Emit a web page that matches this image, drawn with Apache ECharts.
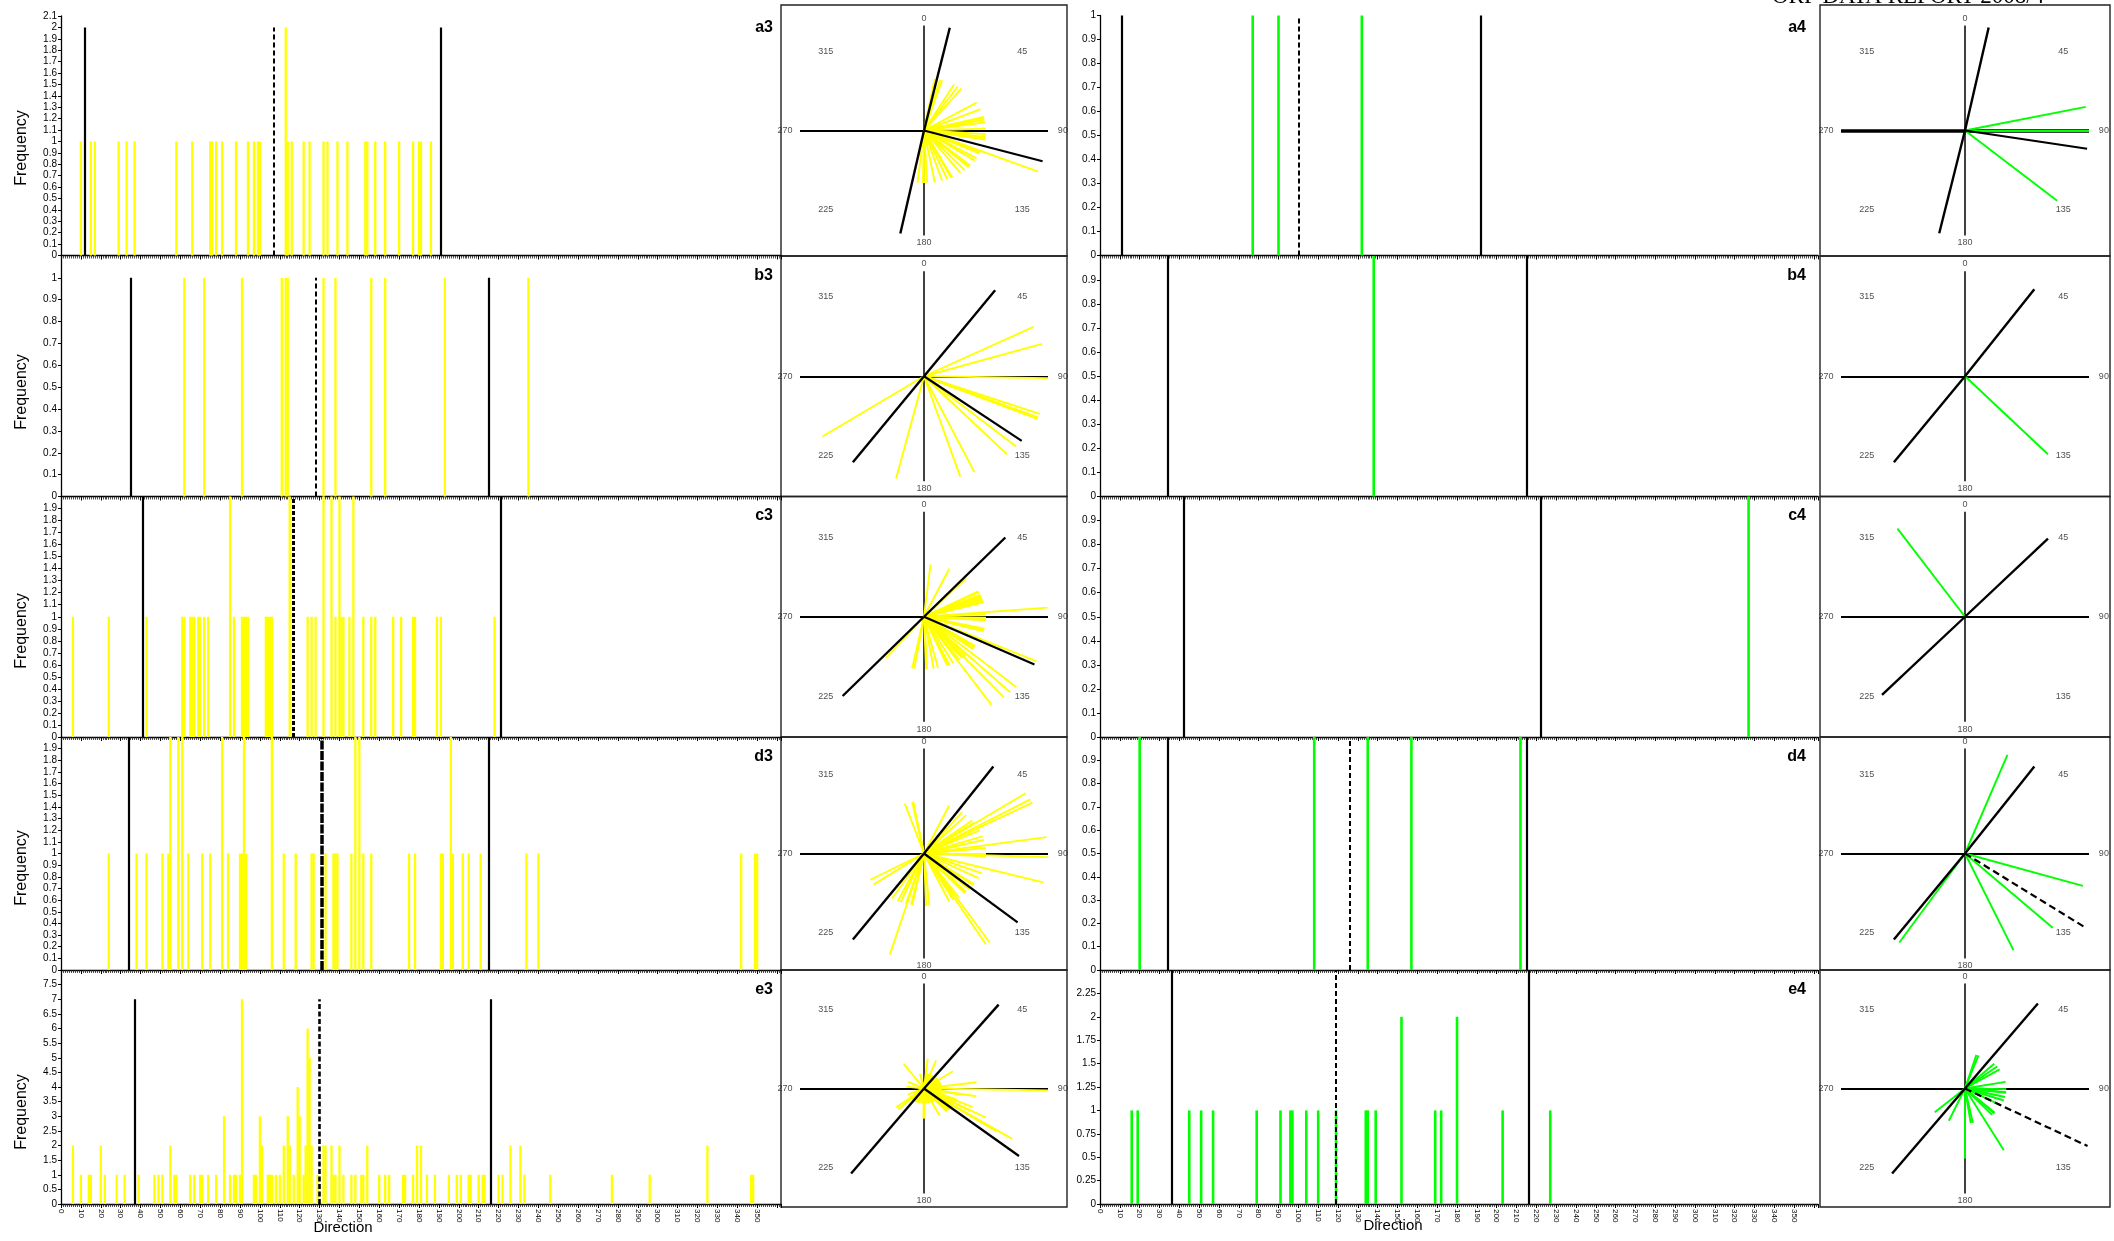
<!DOCTYPE html>
<html>
<head>
<meta charset="utf-8">
<script src="https://cdn.jsdelivr.net/npm/echarts/dist/echarts.min.js"></script>
<style>
  html, body { margin: 0; padding: 0; background: #fff; }
  #chart { width: 2114px; height: 1241px; }
</style>
</head>
<body>
<div id="chart"></div>
<script>
// ---- data: direction (degrees) / frequency pairs per sample ----
const roseTickLabels = [0, 45, 90, 135, 180, 225, 270, 315];

const a3Counts = [[10,1],[15,1],[17,1],[29,1],[33,1],[37,1],[58,1],[66,1],[75,1],[76,1],[78,1],[81,1],[88,1],[94,1],[97,1],[99,1],[100,1],[113,2],[114,1],[116,1],[122,1],[125,1],[132,1],[134,1],[139,1],[144,1],[153,1],[154,1],[158,1],[163,1],[170,1],[177,1],[180,1],[181,1],[186,1]];
const a3Trend = [12, 191];
const a3Mean = 107;

const b3Counts = [[62,1],[72,1],[91,1],[111,1],[113,1],[114,1],[132,1],[138,1],[156,1],[163,1],[193,1],[235,1]];
const b3Trend = [35, 215];
const b3Mean = 128;

const c3Counts = [[6,1],[24,1],[43,1],[61,1],[62,1],[65,1],[66,1],[67,1],[69,1],[70,1],[72,1],[74,1],[85,2],[87,1],[91,1],[92,1],[93,1],[94,1],[103,1],[104,1],[105,1],[106,1],[115,2],[124,1],[126,1],[128,1],[132,2],[136,2],[138,1],[140,2],[141,1],[142,1],[145,1],[147,2],[152,1],[156,1],[158,1],[167,1],[171,1],[177,1],[178,1],[189,1],[191,1],[218,1]];
const c3Trend = [41, 221];
const c3Mean = 117;

const d3Counts = [[24,1],[38,1],[43,1],[51,1],[54,1],[55,2],[59,2],[61,2],[64,1],[71,1],[75,1],[81,2],[84,1],[90,1],[91,1],[92,2],[93,1],[106,2],[112,1],[118,1],[126,1],[127,1],[133,1],[137,1],[138,1],[139,1],[146,1],[148,2],[150,2],[152,1],[156,1],[175,1],[178,1],[191,1],[192,1],[196,2],[197,1],[202,1],[205,1],[211,1],[234,1],[240,1],[342,1],[349,1],[350,1]];
const d3Trend = [34, 215];
const d3Mean = 131;

const e3Counts = [[6,2],[10,1],[14,1],[15,1],[20,2],[22,1],[28,1],[32,1],[39,1],[47,1],[49,1],[51,1],[55,2],[57,1],[58,1],[65,1],[67,1],[70,1],[71,1],[74,1],[78,1],[82,3],[85,1],[87,1],[88,1],[90,1],[91,7],[97,1],[98,1],[100,3],[101,2],[104,1],[105,1],[106,1],[108,1],[110,1],[112,2],[114,3],[115,2],[117,1],[119,4],[120,3],[122,1],[123,2],[124,6],[125,5],[126,2],[129,1],[132,2],[133,2],[136,2],[137,1],[138,1],[140,2],[142,1],[146,1],[148,1],[151,1],[152,1],[154,2],[160,1],[163,1],[165,1],[172,1],[173,1],[177,1],[179,2],[181,2],[184,1],[188,1],[195,1],[199,1],[201,1],[205,1],[206,1],[210,1],[212,1],[213,1],[220,1],[222,1],[226,2],[231,2],[233,1],[246,1],[277,1],[296,1],[325,2],[347,1],[348,1]];
const e3Trend = [37, 216];
const e3Mean = 130;

const a4Counts = [[77,1],[90,1],[132,1]];
const a4Trend = [11, 192];
const a4Mean = 100;

const b4Counts = [[138,1]];
const b4Trend = [34, 215];
const b4Mean = null;

const c4Counts = [[327,1]];
const c4Trend = [42, 222];
const c4Mean = null;

const d4Counts = [[20,1],[108,1],[135,1],[157,1],[212,1]];
const d4Trend = [34, 215];
const d4Mean = 126;

const e4Counts = [[16,1],[19,1],[45,1],[51,1],[57,1],[79,1],[91,1],[96,1],[97,1],[104,1],[110,1],[119,1],[134,1],[135,1],[139,1],[152,2],[169,1],[172,1],[180,2],[203,1],[227,1]];
const e4Trend = [36, 216];
const e4Mean = 119;

// frequency axes
const leftYMax  = [2.1, 1.1, 2, 2, 8];
const leftYStep = [0.1, 0.1, 0.1, 0.1, 0.5];
const rightYMax  = [1, 1, 1, 1, 2.5];
const rightYStep = [0.1, 0.1, 0.1, 0.1, 0.25];
// height reached by the reference lines in each histogram
const leftMarkTop  = [2, 1, 2, 2, 7];
const rightMarkTop = [1, 1, 1, 1, 2.5];
// frequency that fills one arm of each rose
const leftRoseScale  = [2, 1, 2, 2, 7];
const rightRoseScale = [1, 1, 1, 1, 3];
// length of the mean-direction ray in each rose (arm = 1)
const leftMeanLen  = [1, 1, 1, 1, 1];
const rightMeanLen = [1, 1, 1, 1.2, 1.13];

// ---- layout ----
const FONT = "'Liberation Sans', Arial, Helvetica, sans-serif";
const histTopL = [16, 256, 496.5, 737, 970];
const histTopR = [15.5, 256, 496.5, 737, 970];
const histBottom = [255.5, 496.5, 737, 970, 1204];
const boxTop = [5, 256, 496.5, 737, 970];
const boxBottom = [256, 496.5, 737, 970, 1207];

const leftSet = [
  {id:'a3', counts:a3Counts, trend:a3Trend, mean:a3Mean},
  {id:'b3', counts:b3Counts, trend:b3Trend, mean:b3Mean},
  {id:'c3', counts:c3Counts, trend:c3Trend, mean:c3Mean},
  {id:'d3', counts:d3Counts, trend:d3Trend, mean:d3Mean},
  {id:'e3', counts:e3Counts, trend:e3Trend, mean:e3Mean}
];
const rightSet = [
  {id:'a4', counts:a4Counts, trend:a4Trend, mean:a4Mean},
  {id:'b4', counts:b4Counts, trend:b4Trend, mean:b4Mean},
  {id:'c4', counts:c4Counts, trend:c4Trend, mean:c4Mean},
  {id:'d4', counts:d4Counts, trend:d4Trend, mean:d4Mean},
  {id:'e4', counts:e4Counts, trend:e4Trend, mean:e4Mean}
];

const grids = [], xAxes = [], yAxes = [], series = [], graphics = [];
const rad = d => d * Math.PI / 180;

function histPanel(p) {
  const g = grids.length;
  grids.push({left: p.left, top: p.top, width: p.width, height: p.bottom - p.top,
              containLabel: false, outerBoundsMode: 'none'});
  xAxes.push({
    gridIndex: g, type: 'value', min: 0, max: 362, interval: 10,
    axisLine: {show: true, onZero: false, lineStyle: {color: '#000', width: 1.3}},
    axisTick: {show: true, length: 4, lineStyle: {color: '#000', width: 1}},
    minorTick: {show: true, splitNumber: 10, length: 3, lineStyle: {color: '#222', width: 0.8}},
    splitLine: {show: false}, minorSplitLine: {show: false},
    axisLabel: {show: p.bottomRow, rotate: -90, fontSize: 8, margin: 5, color: '#000', fontFamily: FONT,
                formatter: v => (v <= 350 ? String(v) : '')}
  });
  yAxes.push({
    gridIndex: g, type: 'value', min: 0, max: p.yMax, interval: p.yStep,
    axisLine: {show: true, onZero: false, lineStyle: {color: '#000', width: 1.3}},
    axisTick: {show: true, length: 3, lineStyle: {color: '#000'}},
    splitLine: {show: false},
    axisLabel: {fontSize: 10, color: '#000', margin: 4, fontFamily: FONT, showMaxLabel: p.showTop}
  });
  series.push({
    type: 'bar', xAxisIndex: g, yAxisIndex: g, data: p.counts, barWidth: p.barWidth,
    itemStyle: {color: p.color}, silent: true, z: 2
  });
  series.push({
    type: 'lines', coordinateSystem: 'cartesian2d', xAxisIndex: g, yAxisIndex: g, silent: true, z: 4,
    data: p.trend.map(a => ({coords: [[a, 0], [a, p.markTop]]})),
    lineStyle: {color: '#000', width: 2.2, opacity: 1}
  });
  if (p.mean != null) {
    series.push({
      type: 'lines', coordinateSystem: 'cartesian2d', xAxisIndex: g, yAxisIndex: g, silent: true, z: 4,
      data: [{coords: [[p.mean, 0], [p.mean, p.markTop]]}],
      lineStyle: {color: '#000', width: p.dashWidth, type: p.dash, opacity: 1}
    });
  }
}

function rosePanel(p) {
  const g = grids.length;
  const w = p.width, h = p.height;
  const xr = w / 2 / 124, yr = h / 2 / 105;
  grids.push({left: p.left, top: p.top, width: w, height: h, show: true,
              borderColor: '#222', borderWidth: 1.4, backgroundColor: 'rgba(0,0,0,0)',
              containLabel: false, outerBoundsMode: 'none'});
  xAxes.push({gridIndex: g, type: 'value', min: -xr, max: xr, show: false, splitLine: {show: false}});
  yAxes.push({gridIndex: g, type: 'value', min: -yr, max: yr, show: false, splitLine: {show: false}});
  const tip = (deg, r) => [r * Math.sin(rad(deg)), r * Math.cos(rad(deg))];
  const ray = (deg, r) => ({coords: [[0, 0], tip(deg, r)]});
  const common = {type: 'lines', coordinateSystem: 'cartesian2d', xAxisIndex: g, yAxisIndex: g, silent: true};
  // compass cross
  series.push(Object.assign({}, common, {z: 2, data: [{coords: [tip(270, 1), tip(90, 1)]}],
    lineStyle: {color: '#000', width: p.armWidth, opacity: 1}}));
  series.push(Object.assign({}, common, {z: 2, data: [{coords: [tip(0, 1), tip(180, 1)]}],
    lineStyle: {color: '#000', width: 1.5, opacity: 1}}));
  // one ray per direction class, length = frequency
  series.push(Object.assign({}, common, {z: 3,
    data: p.counts.map(c => ray(c[0], c[1] / p.scale)),
    lineStyle: {color: p.color, width: 1.9, opacity: 1}}));
  // reference axis through the centre
  series.push(Object.assign({}, common, {z: 4,
    data: p.trend.map(a => ray(a, 1)),
    lineStyle: {color: '#000', width: 2.4, opacity: 1}}));
  if (p.mean != null) {
    series.push(Object.assign({}, common, {z: 4,
      data: [ray(p.mean, p.meanLen)],
      lineStyle: {color: '#000', width: 2.2, type: p.meanDashed ? [7, 4] : 'solid', opacity: 1}}));
  }
  series.push({
    type: 'scatter', xAxisIndex: g, yAxisIndex: g, symbolSize: 0, silent: true, z: 5, clip: false,
    data: roseTickLabels.map(d => ({name: String(d), value: [1.12 * Math.sin(rad(d)), 1.07 * Math.cos(rad(d))]})),
    label: {show: true, position: 'inside', formatter: '{b}', fontSize: 9, color: '#222', fontFamily: FONT}
  });
}

const meanDashL = [[5, 3], [5, 3], [4, 2], [9, 1.5], [5, 2.5]];
const meanWidthL = [2, 2, 3, 3.5, 2.6];

for (let i = 0; i < 5; i++) {
  const L = leftSet[i], R = rightSet[i];
  histPanel({left: 61, width: 720, top: histTopL[i], bottom: histBottom[i], counts: L.counts,
    color: '#FFFF00', barWidth: 2.3, yMax: leftYMax[i], yStep: leftYStep[i], showTop: i === 0,
    markTop: leftMarkTop[i], trend: L.trend, mean: L.mean, dash: meanDashL[i], dashWidth: meanWidthL[i],
    bottomRow: i === 4});
  rosePanel({left: 781, width: 286, top: boxTop[i], height: boxBottom[i] - boxTop[i], counts: L.counts,
    color: '#FFFF00', scale: leftRoseScale[i], trend: L.trend, mean: L.mean, meanLen: leftMeanLen[i],
    meanDashed: false, armWidth: 2});
  histPanel({left: 1100, width: 718, top: histTopR[i], bottom: histBottom[i], counts: R.counts,
    color: '#00FF00', barWidth: 2.6, yMax: rightYMax[i], yStep: rightYStep[i], showTop: i === 0,
    markTop: rightMarkTop[i], trend: R.trend, mean: R.mean, dash: [5, 3], dashWidth: 2,
    bottomRow: i === 4});
  rosePanel({left: 1820, width: 290, top: boxTop[i], height: boxBottom[i] - boxTop[i], counts: R.counts,
    color: '#00FF00', scale: rightRoseScale[i], trend: R.trend, mean: R.mean, meanLen: rightMeanLen[i],
    meanDashed: i >= 3, armWidth: i === 0 ? 3.5 : 2});
}

// panel tags
const tagY = [28, 276, 516, 757, 990];
for (let i = 0; i < 5; i++) {
  [[leftSet[i].id, 773], [rightSet[i].id, 1806]].forEach(([t, x]) => {
    graphics.push({type: 'text', x: x, y: tagY[i], z: 10, silent: true,
      style: {text: t, fill: '#000', font: "bold 16px 'Liberation Sans', Arial, sans-serif",
              align: 'right', verticalAlign: 'middle', textAlign: 'right', textVerticalAlign: 'middle'}});
  });
}
// vertical titles
const freqY = [148, 392, 631, 868, 1112];
freqY.forEach(y => graphics.push({type: 'text', x: 22, y: y, rotation: Math.PI / 2, z: 10, silent: true,
  style: {text: 'Frequency', fill: '#000', font: "16px 'Liberation Sans', Arial, sans-serif",
          align: 'center', verticalAlign: 'middle', textAlign: 'center', textVerticalAlign: 'middle'}}));
// horizontal titles
[[343, 1228], [1393, 1226]].forEach(([x, y]) => graphics.push({type: 'text', x: x, y: y, z: 10, silent: true,
  style: {text: 'Direction', fill: '#000', font: "15px 'Liberation Sans', Arial, sans-serif",
          align: 'center', verticalAlign: 'middle', textAlign: 'center', textVerticalAlign: 'middle'}}));
// running page header
graphics.push({type: 'text', x: 1772, y: -3, z: 10, silent: true,
  style: {text: 'ORP DATA REPORT 2008/4', fill: '#000', font: "23px 'Liberation Serif', 'Times New Roman', serif",
          align: 'left', verticalAlign: 'middle', textAlign: 'left', textVerticalAlign: 'middle'}});

const chart = echarts.init(document.getElementById('chart'), null, {renderer: 'canvas', width: 2114, height: 1241});
chart.setOption({
  animation: false,
  backgroundColor: '#fff',
  textStyle: {fontFamily: FONT},
  grid: grids,
  xAxis: xAxes,
  yAxis: yAxes,
  series: series,
  graphic: graphics
});
</script>
</body>
</html>
